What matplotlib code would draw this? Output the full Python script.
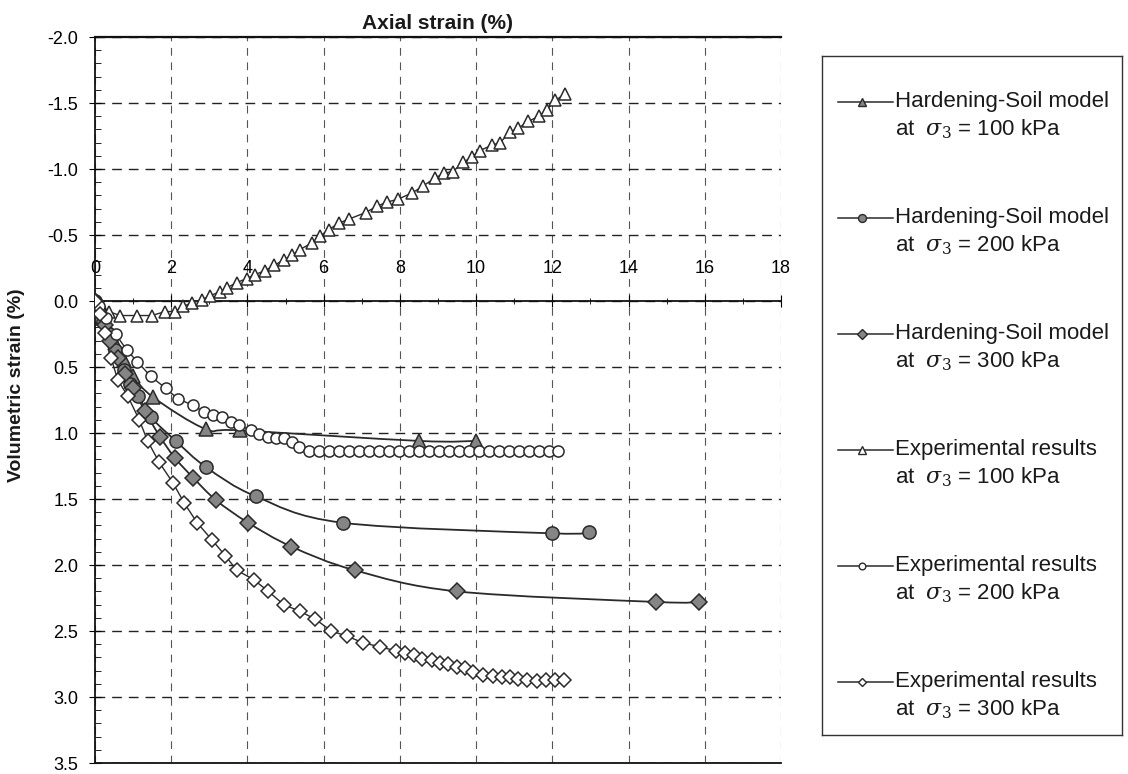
import numpy as np
import matplotlib.pyplot as plt
from matplotlib.path import Path
from matplotlib.patches import PathPatch
from matplotlib.ticker import MultipleLocator, FormatStrFormatter

plt.rcParams['font.family'] = ['Liberation Sans', 'DejaVu Sans']
plt.rcParams['mathtext.fontset'] = 'dejavuserif'

# Hardening-Soil model (filled markers, smoothed line)
hs100_x = [0, 0.1, 0.22, 0.36, 0.52, 0.75, 1.0, 1.53, 2.9, 3.8, 8.5, 10.0]
hs100_y = [0, 0.06, 0.13, 0.22, 0.32, 0.45, 0.57, 0.73, 0.97, 0.98, 1.06, 1.06]

hs200_x = [0, 0.1, 0.22, 0.36, 0.52, 0.76, 0.92, 1.14, 1.47, 2.12, 2.92, 4.22, 6.5, 12.0, 12.95]
hs200_y = [0, 0.07, 0.15, 0.25, 0.37, 0.52, 0.63, 0.72, 0.88, 1.06, 1.26, 1.48, 1.68, 1.76, 1.75]

hs300_x = [0, 0.1, 0.25, 0.4, 0.6, 0.8, 1.0, 1.3, 1.71, 2.1, 2.58, 3.18, 4.02, 5.15, 6.82, 9.5, 14.73, 15.85]
hs300_y = [0, 0.08, 0.18, 0.3, 0.43, 0.55, 0.66, 0.83, 1.03, 1.19, 1.34, 1.51, 1.68, 1.86, 2.04, 2.20, 2.28, 2.28]

# experimental results (open markers)
ex100_x = [0, 0.36, 0.66, 1.10, 1.49, 1.84, 2.10, 2.32, 2.54, 2.80, 3.02, 3.28, 3.46, 3.72, 3.98,
           4.20, 4.46, 4.70, 4.95, 5.18, 5.38, 5.69, 5.90, 6.13, 6.40, 6.66, 7.10, 7.41, 7.67, 7.94,
           8.33, 8.60, 8.91, 9.17, 9.39, 9.66, 9.88, 10.10, 10.41, 10.63, 10.89, 11.11, 11.37, 11.64,
           11.86, 12.08, 12.34]
ex100_y = [0, 0.08, 0.11, 0.11, 0.11, 0.08, 0.08, 0.04, 0.015, -0.01, -0.04, -0.07, -0.10, -0.14, -0.17,
           -0.20, -0.23, -0.27, -0.31, -0.35, -0.39, -0.44, -0.49, -0.54, -0.59, -0.62, -0.67, -0.72, -0.75, -0.77,
           -0.82, -0.87, -0.93, -0.97, -0.98, -1.05, -1.09, -1.14, -1.18, -1.20, -1.28, -1.31, -1.36, -1.40,
           -1.45, -1.52, -1.57]

ex200_x = [0, 0.1, 0.28, 0.54, 0.83, 1.11, 1.46, 1.85, 2.17, 2.57, 2.86, 3.10, 3.34, 3.56, 3.78,
           4.09, 4.31, 4.53, 4.74, 4.96, 5.18, 5.36, 5.62, 5.88, 6.14, 6.40, 6.67, 6.93, 7.19, 7.45,
           7.72, 7.98, 8.24, 8.50, 8.77, 9.03, 9.29, 9.55, 9.82, 10.08, 10.34, 10.60, 10.87, 11.13,
           11.39, 11.65, 11.92, 12.14]
ex200_y = [0, 0.04, 0.13, 0.25, 0.37, 0.46, 0.57, 0.66, 0.74, 0.79, 0.84, 0.86, 0.88, 0.92, 0.94,
           0.98, 1.005, 1.03, 1.04, 1.04, 1.07, 1.105, 1.14, 1.14, 1.14, 1.14, 1.14, 1.14, 1.14, 1.14,
           1.14, 1.14, 1.14, 1.14, 1.14, 1.14, 1.14, 1.14, 1.14, 1.14, 1.14, 1.14, 1.14, 1.14,
           1.14, 1.14, 1.14, 1.14]

ex300_x = [0, 0.12, 0.25, 0.42, 0.6, 0.86, 1.16, 1.38, 1.68, 2.05, 2.34, 2.68, 3.07, 3.42, 3.72,
           4.16, 4.55, 4.95, 5.37, 5.78, 6.20, 6.62, 7.04, 7.48, 7.89, 8.14, 8.36, 8.59, 8.84, 9.05,
           9.27, 9.49, 9.71, 9.93, 10.19, 10.45, 10.67, 10.89, 11.11, 11.33, 11.59, 11.83, 12.07, 12.31]
ex300_y = [0, 0.10, 0.24, 0.43, 0.60, 0.72, 0.90, 1.06, 1.22, 1.38, 1.53, 1.68, 1.81, 1.93, 2.04,
           2.11, 2.20, 2.30, 2.35, 2.41, 2.50, 2.54, 2.59, 2.62, 2.65, 2.67, 2.68, 2.71, 2.72, 2.74,
           2.75, 2.77, 2.78, 2.81, 2.83, 2.84, 2.85, 2.85, 2.86, 2.87, 2.88, 2.87, 2.87, 2.87]

labels = ['Hardening-Soil model', 'Hardening-Soil model', 'Hardening-Soil model',
          'Experimental results', 'Experimental results', 'Experimental results']
pressures = ['100', '200', '300', '100', '200', '300']

LINE = '#2a2a2a'
FILL = '#858585'


def smooth_path(x, y):
    # Excel-style smoothed line between the points (Catmull-Rom as Bezier)
    x = np.asarray(x, float)
    y = np.asarray(y, float)
    n = len(x)
    verts = [(x[0], y[0])]
    codes = [Path.MOVETO]
    for i in range(n - 1):
        i0 = max(i - 1, 0)
        i3 = min(i + 2, n - 1)
        c1 = (x[i] + (x[i + 1] - x[i0]) / 6, y[i] + (y[i + 1] - y[i0]) / 6)
        c2 = (x[i + 1] - (x[i3] - x[i]) / 6, y[i + 1] - (y[i3] - y[i]) / 6)
        verts += [c1, c2, (x[i + 1], y[i + 1])]
        codes += [Path.CURVE4] * 3
    return Path(verts, codes)


fig = plt.figure(figsize=(11.28, 7.74), dpi=100)
ax = fig.add_axes([95 / 1128, 1 - 763 / 774, 686 / 1128, 726 / 774])

ax.set_xlim(0, 18)
ax.set_ylim(3.5, -2.0)

# grid
ax.xaxis.grid(True, ls=(0, (7, 6)), color='#555555', lw=0.8)
ax.yaxis.grid(True, ls=(0, (7, 5)), color='#222222', lw=1.0)
ax.set_axisbelow(True)

series = [
    (hs100_x, hs100_y, '^', FILL, 10, True),
    (hs200_x, hs200_y, 'o', FILL, 9.5, True),
    (hs300_x, hs300_y, 'D', FILL, 8, True),
    (ex100_x, ex100_y, '^', 'white', 9, False),
    (ex200_x, ex200_y, 'o', 'white', 8, False),
    (ex300_x, ex300_y, 'D', 'white', 7.5, False),
]

for xs, ys, mk, fc, ms, smooth in series:
    if smooth:
        ax.add_patch(PathPatch(smooth_path(xs, ys), fill=False, ec=LINE, lw=1.3, zorder=3))
    else:
        ax.plot(xs, ys, color=LINE, lw=1.0, zorder=3)
    ax.plot(xs, ys, ls='none', marker=mk, ms=ms, mfc=fc, mec=LINE, mew=1.1, zorder=4)

# axes: x axis crosses at 0 with labels above it
ax.spines['top'].set_position(('data', 0))
ax.xaxis.tick_top()
ax.spines['right'].set_visible(False)
for s in ['left', 'top', 'bottom']:
    ax.spines[s].set_linewidth(1.3)
    ax.spines[s].set_color('#111111')
ax.axhline(-2.0, color='#111111', lw=1.6, clip_on=False, zorder=5)

ax.xaxis.set_major_locator(MultipleLocator(2))
ax.xaxis.set_minor_locator(MultipleLocator(1))
ax.yaxis.set_major_locator(MultipleLocator(0.5))
ax.yaxis.set_minor_locator(MultipleLocator(0.1))
ax.yaxis.set_major_formatter(FormatStrFormatter('%.1f'))
ax.xaxis.set_major_formatter(FormatStrFormatter('%d'))

ax.tick_params(axis='x', which='major', direction='inout', length=9, labelsize=13, pad=13)
ax.tick_params(axis='x', which='minor', direction='inout', length=4)
ax.tick_params(axis='y', which='major', direction='inout', length=8, labelsize=13, pad=8)
ax.tick_params(axis='y', which='minor', direction='in', length=4)

ax.set_title('Axial strain (%)', fontsize=15, fontweight='bold', pad=6, color='#1a1a1a')
ax.set_ylabel('Volumetric strain (%)', fontsize=14, fontweight='bold', color='#1a1a1a')
ax.yaxis.set_label_coords(-0.102, 0.52)

# legend box drawn by hand so the handle sits on the first text line
lg = fig.add_axes([822 / 1128, 1 - 735 / 774, 300 / 1128, 679 / 774])
lg.set_xlim(0, 300)
lg.set_ylim(679, 0)
lg.set_xticks([])
lg.set_yticks([])
for s in lg.spines.values():
    s.set_linewidth(1.0)
    s.set_color('#333333')

for i, (xs, ys, mk, fc, ms, smooth) in enumerate(series):
    yy = 46 + 116 * i
    lg.plot([16, 71], [yy, yy], color=LINE, lw=1.1)
    lg.plot([40], [yy], ls='none', marker=mk, ms=ms * 0.6, mfc=fc, mec=LINE, mew=1.0)
    lg.text(73, yy, labels[i], fontsize=16, va='center', ha='left', color='#1a1a1a')
    lg.text(73, yy + 27, r'at  $\sigma_3$ = ' + pressures[i] + ' kPa', fontsize=16,
            va='center', ha='left', color='#1a1a1a')

fig.savefig('out.png', dpi=100)
